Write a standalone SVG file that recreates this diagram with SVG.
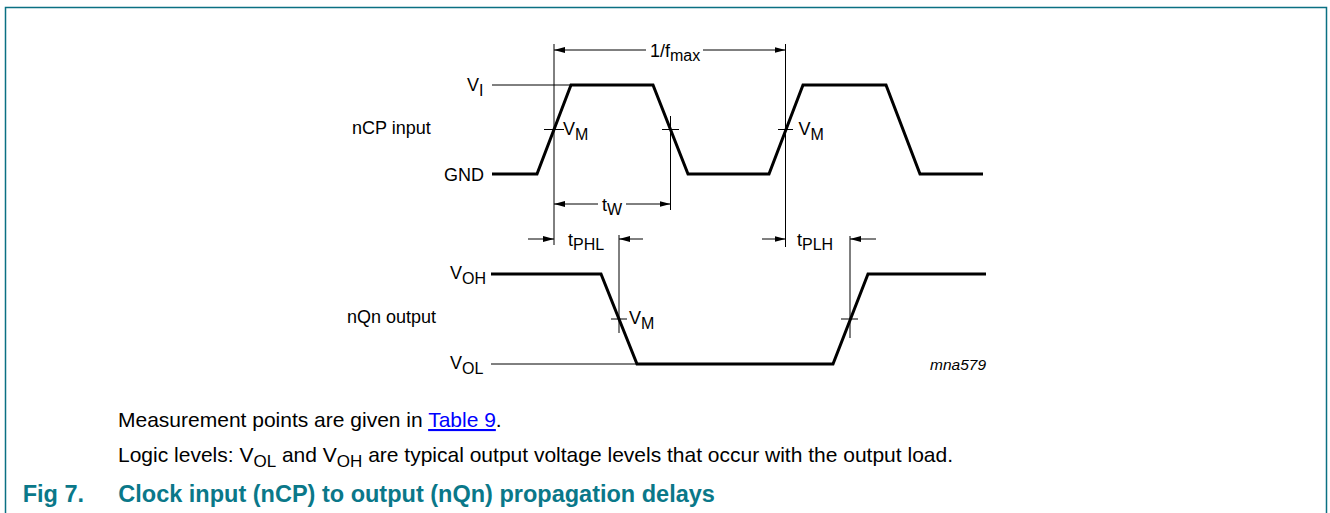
<svg xmlns="http://www.w3.org/2000/svg" width="1330" height="513" viewBox="0 0 1330 513">
  <defs>
    <marker id="arr" viewBox="0 0 11 6" refX="11" refY="3" markerWidth="11" markerHeight="6" markerUnits="userSpaceOnUse" orient="auto">
      <path d="M0,0 L11,3 L0,6 z" fill="#000"/>
    </marker>
    <style>
      .lbl { font-family: "Liberation Sans", Arial, sans-serif; font-size: 18px; fill: #000; }
      .sub { font-size: 16px; }
      .thick { fill: none; stroke: #000; stroke-width: 3; stroke-linejoin: miter; }
      .thin { fill: none; stroke: #000; stroke-width: 1; }
      .dim { fill: none; stroke: #000; stroke-width: 1; marker-end: url(#arr); }
      .body { font-family: "Liberation Sans", Arial, sans-serif; font-size: 21px; fill: #000; }
      .bsub { font-size: 17px; }
      .title { font-family: "Liberation Sans", Arial, sans-serif; font-size: 23.5px; font-weight: bold; fill: #0a7889; }
    </style>
  </defs>
  <rect width="1330" height="513" fill="#fff"/>
  <g id="frame">
    <path d="M5.5,513 L5.5,7.5 L1326.5,7.5 L1326.5,513" fill="none" stroke="#0a7083" stroke-width="1.5"/>
  </g>

  <g id="connectors">
    <!-- reference verticals -->
    <line class="thin" x1="554" y1="44" x2="554" y2="245"/>
    <line class="thin" x1="785.5" y1="44" x2="785.5" y2="247"/>
    <line class="thin" x1="670.5" y1="116" x2="670.5" y2="210"/>
    <line class="thin" x1="619" y1="235" x2="619" y2="333"/>
    <line class="thin" x1="850" y1="236" x2="850" y2="338"/>
    <!-- VM ticks -->
    <line class="thin" x1="544" y1="129.5" x2="564" y2="129.5"/>
    <line class="thin" x1="662" y1="129.5" x2="679" y2="129.5"/>
    <line class="thin" x1="778" y1="129.5" x2="793" y2="129.5"/>
    <line class="thin" x1="611" y1="319" x2="627" y2="319"/>
    <line class="thin" x1="841" y1="319" x2="858" y2="319"/>
    <!-- level lines -->
    <line class="thin" x1="492" y1="85" x2="571" y2="85"/>
    <line class="thin" x1="491" y1="364" x2="637" y2="364"/>
    <!-- dimension arrows -->
    <line class="dim" x1="646" y1="50" x2="554" y2="50"/>
    <line class="dim" x1="703" y1="50" x2="785.5" y2="50"/>
    <line class="dim" x1="598" y1="204" x2="554" y2="204"/>
    <line class="dim" x1="626" y1="204" x2="670.5" y2="204"/>
    <line class="dim" x1="528" y1="239" x2="554" y2="239"/>
    <line class="dim" x1="643" y1="239" x2="619" y2="239"/>
    <line class="dim" x1="762" y1="239" x2="785.5" y2="239"/>
    <line class="dim" x1="876" y1="239" x2="850" y2="239"/>
  </g>

  <g id="ncp-input">
    <path class="thick" d="M492,174 L537,174 L571,85 L653,85 L688,174 L769,174 L803,85 L886,85 L920,174 L983,174"/>
    <text class="lbl" x="352" y="134">nCP input</text>
    <text class="lbl" x="467" y="91">V<tspan class="sub" dy="4.5">I</tspan></text>
    <text class="lbl" x="444" y="181">GND</text>
    <text class="lbl" x="563" y="134.5">V<tspan class="sub" dy="5">M</tspan></text>
    <text class="lbl" x="798.5" y="134.5">V<tspan class="sub" dy="5">M</tspan></text>
  </g>

  <g id="nqn-output">
    <path class="thick" d="M491,274 L601,274 L637,364 L833,364 L868,274 L986,274"/>
    <text class="lbl" x="347" y="322.5">nQn output</text>
    <text class="lbl" x="450" y="279">V<tspan class="sub" dy="4.5">OH</tspan></text>
    <text class="lbl" x="450" y="369">V<tspan class="sub" dy="4.5">OL</tspan></text>
    <text class="lbl" x="629" y="324">V<tspan class="sub" dy="5">M</tspan></text>
  </g>

  <g id="timing-labels">
    <text class="lbl" x="650" y="56.5">1/f<tspan class="sub" dy="4.5">max</tspan></text>
    <text class="lbl" x="602" y="210.5">t<tspan class="sub" dy="4.5">W</tspan></text>
    <text class="lbl" x="568" y="245.5">t<tspan class="sub" dy="4.5">PHL</tspan></text>
    <text class="lbl" x="797" y="245.5">t<tspan class="sub" dy="4.5">PLH</tspan></text>
    <text class="lbl" x="930" y="370" style="font-size:15.5px;font-style:italic">mna579</text>
  </g>

  <g id="notes">
    <text class="body" x="118" y="427">Measurement points are given in <tspan fill="#0000ff" text-decoration="underline">Table 9</tspan>.</text>
    <text class="body" x="118" y="461.5">Logic levels: V<tspan class="bsub" dy="5">OL</tspan><tspan dy="-5"> and V</tspan><tspan class="bsub" dy="5">OH</tspan><tspan dy="-5"> are typical output voltage levels that occur with the output load.</tspan></text>
  </g>

  <g id="caption">
    <text class="title" x="22.7" y="502">Fig 7.</text>
    <text class="title" x="118.3" y="502">Clock input (nCP) to output (nQn) propagation delays</text>
  </g>
</svg>
